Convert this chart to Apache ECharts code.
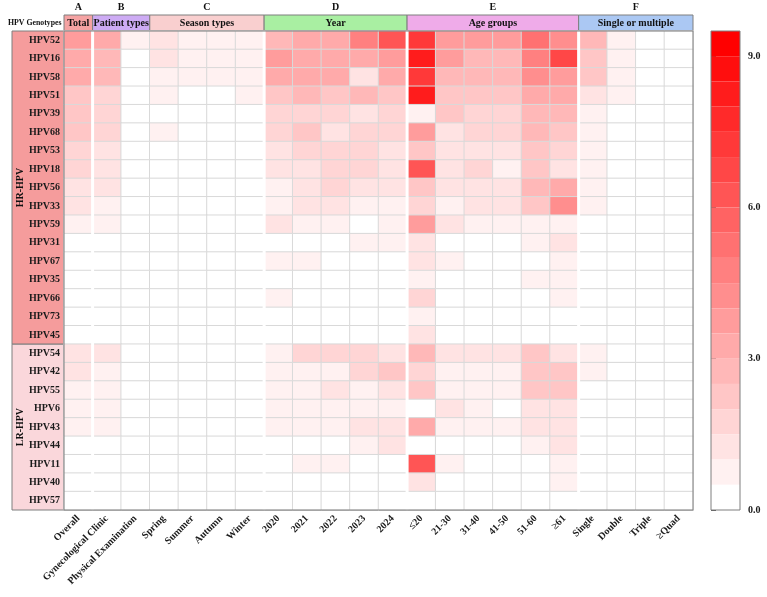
<!DOCTYPE html>
<html>
<head>
<meta charset="utf-8">
<script src="https://cdn.jsdelivr.net/npm/echarts@6/dist/echarts.min.js"></script>
<style>
  html, body { margin: 0; padding: 0; background: #fff; }
  #chart { width: 767px; height: 597px; }
</style>
</head>
<body>
<div id="chart"></div>
<script>
// rows (top to bottom)
const genotypes = ['HPV52','HPV16','HPV58','HPV51','HPV39','HPV68','HPV53','HPV18','HPV56','HPV33','HPV59','HPV31','HPV67','HPV35','HPV66','HPV73','HPV45',
                   'HPV54','HPV42','HPV55','HPV6','HPV43','HPV44','HPV11','HPV40','HPV57'];
const rowGroupNames = ['HR-HPV', 'LR-HPV'];
const rowGroupSpans = [[0, 16], [17, 25]];

// columns
const columns = ['Overall','Gynecological Clinic','Physical Examination','Spring','Summer','Autumn','Winter',
                 '2020','2021','2022','2023','2024','≤20','21-30','31-40','41-50','51-60','≥61',
                 'Single','Double','Triple','≥Quad'];
const colGroupNames = ['Total','Patient types','Season types','Year','Age groups','Single or multiple'];
const colGroupLetters = ['A','B','C','D','E','F'];
const colGroupSpans = [[0, 0], [1, 2], [3, 6], [7, 11], [12, 17], [18, 21]];

// values, one row per genotype
const total = [3.7,3.3,3.3,2.4,2.0,2.0,1.5,1.5,1.4,1.4,0.8,0.3,0.3,0.2,0.2,0.1,0.1,
               1.1,1.1,0.7,0.7,0.8,0.3,0.3,0.2,0.1];
const patient = [[3.4,0.7],[2.8,0.2],[2.5,0.1],[1.9,0.1],[1.5,0],[1.5,0],[1.4,0],[1.4,0],[1.1,0],[0.8,0],[0.8,0],[0.3,0],[0.2,0],[0.2,0],[0.2,0],[0.1,0],[0.1,0],
                 [1.1,0],[0.7,0],[0.7,0],[0.7,0],[0.8,0],[0.3,0],[0.3,0],[0.2,0],[0.1,0]];
const season = [[1.3,0.9,0.8,0.8],[1.3,0.8,0.8,0.8],[0.8,0.8,0.8,0.8],[0.8,0.1,0.2,0.7],[0.2,0,0,0],[0.8,0,0,0],[0,0,0,0],[0,0,0,0],[0,0,0,0],[0,0,0,0],[0,0,0,0],[0,0,0,0],[0,0,0,0],[0,0,0,0],[0,0,0,0],[0,0,0,0],[0,0,0,0],
                [0,0,0,0],[0,0,0,0],[0,0,0,0],[0,0,0,0],[0,0,0,0],[0,0,0,0],[0,0,0,0],[0,0,0,0],[0,0,0,0]];
const year = [[2.7,3.3,3.3,4.7,6.2],[3.5,3.0,3.0,3.3,3.8],[3.0,3.0,3.0,1.4,3.1],[2.2,2.5,2.4,2.5,2.4],[1.5,1.9,1.7,1.2,1.5],[1.5,2.0,1.3,1.8,1.8],
              [1.3,1.6,1.5,1.6,1.3],[1.4,1.4,1.5,1.6,1.4],[0.7,1.3,1.5,1.2,1.4],[0.7,1.4,1.4,0.8,0.9],[1.4,0.8,0.8,0,0.7],[0,0,0,0.7,0.8],
              [0.7,0.7,0,0,0],[0,0,0,0,0],[0.7,0,0,0,0],[0,0,0,0,0],[0,0,0,0,0],
              [0.8,1.7,1.7,1.5,1.1],[0.8,0.7,0.7,1.8,2.3],[0.8,0.8,1.4,0.7,1.3],[0.8,0.8,0.8,0.8,0.7],[0.8,0.8,0.8,1.3,1.3],
              [0,0,0,0.8,1.3],[0,0.8,0.8,0,0],[0,0,0,0,0],[0,0,0,0,0]];
const age = [[7.2,3.7,3.6,3.5,5.2,4.2],[8.4,3.5,2.9,2.7,4.6,6.8],[7.3,2.7,2.6,2.8,4.0,3.7],[8.3,2.4,2.1,2.2,3.2,3.0],[0.7,2.0,1.7,1.8,2.7,2.5],
             [3.9,1.3,1.6,1.5,2.5,2.4],[2.3,1.2,1.4,1.3,2.2,1.9],[6.0,1.4,1.6,0.6,2.0,1.2],[2.3,1.2,1.3,1.3,2.6,3.0],[1.8,0.8,1.0,1.0,2.2,4.0],
             [3.7,1.3,0.7,0.7,0.7,0.7],[1.4,0,0,0,0.7,1.0],[1.1,0.6,0,0,0,0.7],[0.7,0,0,0,0.8,0.7],[1.8,0,0,0,0,0.6],[0.7,0,0,0,0,0],[1.1,0,0,0,0,0],
             [2.6,1.1,1.1,1.0,2.0,1.4],[1.9,0.7,0.7,0.7,2.0,2.3],[2.3,0.7,0.7,0.8,2.0,2.4],[0.2,1.3,0.8,0,1.3,1.1],[3.4,0.8,0.8,0.8,1.3,1.1],
             [0,0,0,0,0.7,1.0],[6.3,0.7,0,0,0,0.7],[1.1,0,0,0,0,0.7],[0,0,0,0,0,0]];
const multiple = [[2.7,0.8,0.1,0],[2.4,0.8,0,0],[2.1,0.8,0,0],[1.3,0.9,0,0],[0.7,0.2,0,0],[0.7,0,0,0],[0.7,0,0,0],[0.7,0,0,0],[0.7,0,0,0],[0.7,0,0,0],
                  [0,0,0,0],[0,0,0,0],[0,0,0,0],[0,0,0,0],[0,0,0,0],[0,0,0,0],[0,0,0,0],
                  [0.8,0,0,0],[0.8,0,0,0],[0,0,0,0],[0,0,0,0],[0,0,0,0],[0,0,0,0],[0,0,0,0],[0,0,0,0],[0,0,0,0]];

// colour scale
const scaleMax = 9.5;
const scaleStep = 0.5;
const scaleTicks = [0, 3, 6, 9];

// styles
const colGroupColors = ['#F5A3A3', '#CDABF4', '#F9CFCF', '#A9EFA2', '#EFABE9', '#ABC8F3'];
const rowGroupColors = ['#F59C9C', '#FAD7DB'];
const serif = '"Liberation Serif", "DejaVu Serif", serif';
const frameColor = '#7f7f7f';

let cells = [];
genotypes.forEach(function (g, r) {
  const row = [total[r]].concat(patient[r], season[r], year[r], age[r], multiple[r]);
  row.forEach(function (v, c) { cells.push([c, r, v]); });
});

let pieces = [];
const nSteps = Math.round(scaleMax / scaleStep);
for (let k = 0; k < nSteps; k++) {
  const gb = Math.round(255 * (1 - k / (nSteps - 1)));
  const p = { gte: k * scaleStep, color: 'rgb(255,' + gb + ',' + gb + ')' };
  if (k === nSteps - 1) p.lte = scaleMax; else p.lt = (k + 1) * scaleStep;
  pieces.push(p);
}

const chart = echarts.init(document.getElementById('chart'));
chart.setOption({
  animation: false,
  title: {
    text: 'HPV Genotypes', left: 8, top: 19, padding: 0,
    textStyle: { fontFamily: serif, fontWeight: 'bold', fontSize: 7.8, color: '#111' }
  },
  grid: [
    { left: 64, top: 31, width: 629, height: 479, show: true, z: 10, backgroundColor: 'transparent',
      borderColor: frameColor, borderWidth: 1, outerBoundsMode: 'none' },
    { left: 711, top: 31, width: 29, height: 479, show: true, z: 10, backgroundColor: 'transparent',
      borderColor: frameColor, borderWidth: 1, outerBoundsMode: 'none' }
  ],
  xAxis: [
    {
      type: 'category', data: columns, gridIndex: 0,
      axisLine: { lineStyle: { color: frameColor } },
      axisTick: { alignWithLabel: true, length: 4, lineStyle: { color: frameColor } },
      axisLabel: { interval: 0, rotate: 45, margin: 7, fontFamily: serif, fontWeight: 'bold', fontSize: 10, color: '#1a1a1a' },
      splitLine: { show: false }
    },
    { type: 'value', gridIndex: 1, show: false, min: 0, max: 1 }
  ],
  yAxis: [
    {
      type: 'category', data: genotypes, inverse: true, gridIndex: 0, z: 3,
      axisLine: { show: false }, axisTick: { show: false },
      axisLabel: { margin: 4, fontFamily: serif, fontWeight: 'bold', fontSize: 10, color: '#1a1a1a' },
      splitLine: { show: false }
    },
    {
      type: 'value', gridIndex: 1, position: 'right', min: 0, max: scaleMax, interval: 3,
      axisLine: { show: false },
      axisTick: { show: true, length: 5, customValues: scaleTicks, lineStyle: { color: '#555' } },
      axisLabel: { margin: 8, customValues: scaleTicks, fontFamily: serif, fontWeight: 'bold', fontSize: 10, color: '#1a1a1a',
                   formatter: function (v) { return v.toFixed(1); } },
      splitLine: { show: false }
    }
  ],
  visualMap: {
    type: 'piecewise', seriesIndex: 0, pieces: pieces,
    orient: 'vertical', left: 711, top: 31, padding: 0,
    itemWidth: 29, itemHeight: 479 / nSteps, itemGap: 0, itemSymbol: 'rect',
    showLabel: false, hoverLink: false, selectedMode: false
  },
  series: [
    {
      type: 'heatmap', data: cells, z: 2,
      itemStyle: { borderColor: '#d9d9d9', borderWidth: 1 },
      emphasis: { disabled: true }
    },
    {
      // white gaps between column groups
      type: 'custom', z: 3, silent: true, clip: false,
      data: colGroupSpans.slice(0, -1).filter(function (s, i) { return i !== 1; }).map(function (s) { return [s[1], 0]; }),
      renderItem: function (params, api) {
        const cw = api.size([1, 1])[0];
        const x = api.coord([api.value(0), 0])[0] + cw / 2;
        const cs = params.coordSys;
        return { type: 'line', shape: { x1: x, y1: cs.y, x2: x, y2: cs.y + cs.height },
                 style: { stroke: '#fff', lineWidth: 3 } };
      }
    },
    {
      // column group header boxes
      type: 'custom', z: 1, silent: true, clip: false,
      data: colGroupSpans.map(function (s) { return [s[0], s[1]]; }),
      renderItem: function (params, api) {
        const i = params.dataIndex;
        const cw = api.size([1, 1])[0];
        const x0 = api.coord([api.value(0), 0])[0] - cw / 2;
        const x1 = api.coord([api.value(1), 0])[0] + cw / 2;
        const top = params.coordSys.y;
        return { type: 'group', children: [
          { type: 'rect', shape: { x: x0, y: top - 16, width: x1 - x0, height: 16 },
            style: { fill: colGroupColors[i], stroke: frameColor, lineWidth: 1 } },
          { type: 'text', style: { text: colGroupNames[i], x: (x0 + x1) / 2, y: top - 7.5, align: 'center', verticalAlign: 'middle',
            font: 'bold 10px ' + serif, fill: '#111' } },
          { type: 'text', style: { text: colGroupLetters[i], x: (x0 + x1) / 2, y: top - 24, align: 'center', verticalAlign: 'middle',
            font: 'bold 10px ' + serif, fill: '#111' } }
        ] };
      }
    },
    {
      // row group strip
      type: 'custom', z: 1, silent: true, clip: false,
      data: rowGroupSpans.map(function (s) { return [0, s[0], s[1]]; }),
      renderItem: function (params, api) {
        const i = params.dataIndex;
        const rh = api.size([1, 1])[1];
        const ya = api.coord([0, api.value(1)])[1];
        const yb = api.coord([0, api.value(2)])[1];
        const y0 = Math.min(ya, yb) - rh / 2;
        const y1 = Math.max(ya, yb) + rh / 2;
        const left = params.coordSys.x;
        return { type: 'group', children: [
          { type: 'rect', shape: { x: left - 52, y: y0, width: 52, height: y1 - y0 },
            style: { fill: rowGroupColors[i], stroke: frameColor, lineWidth: 1 } },
          { type: 'text', x: left - 44, y: (y0 + y1) / 2, rotation: Math.PI / 2,
            style: { text: rowGroupNames[i], x: 0, y: 0, align: 'center', verticalAlign: 'middle', font: 'bold 10px ' + serif, fill: '#111' } }
        ] };
      }
    }
  ]
});
</script>
</body>
</html>
